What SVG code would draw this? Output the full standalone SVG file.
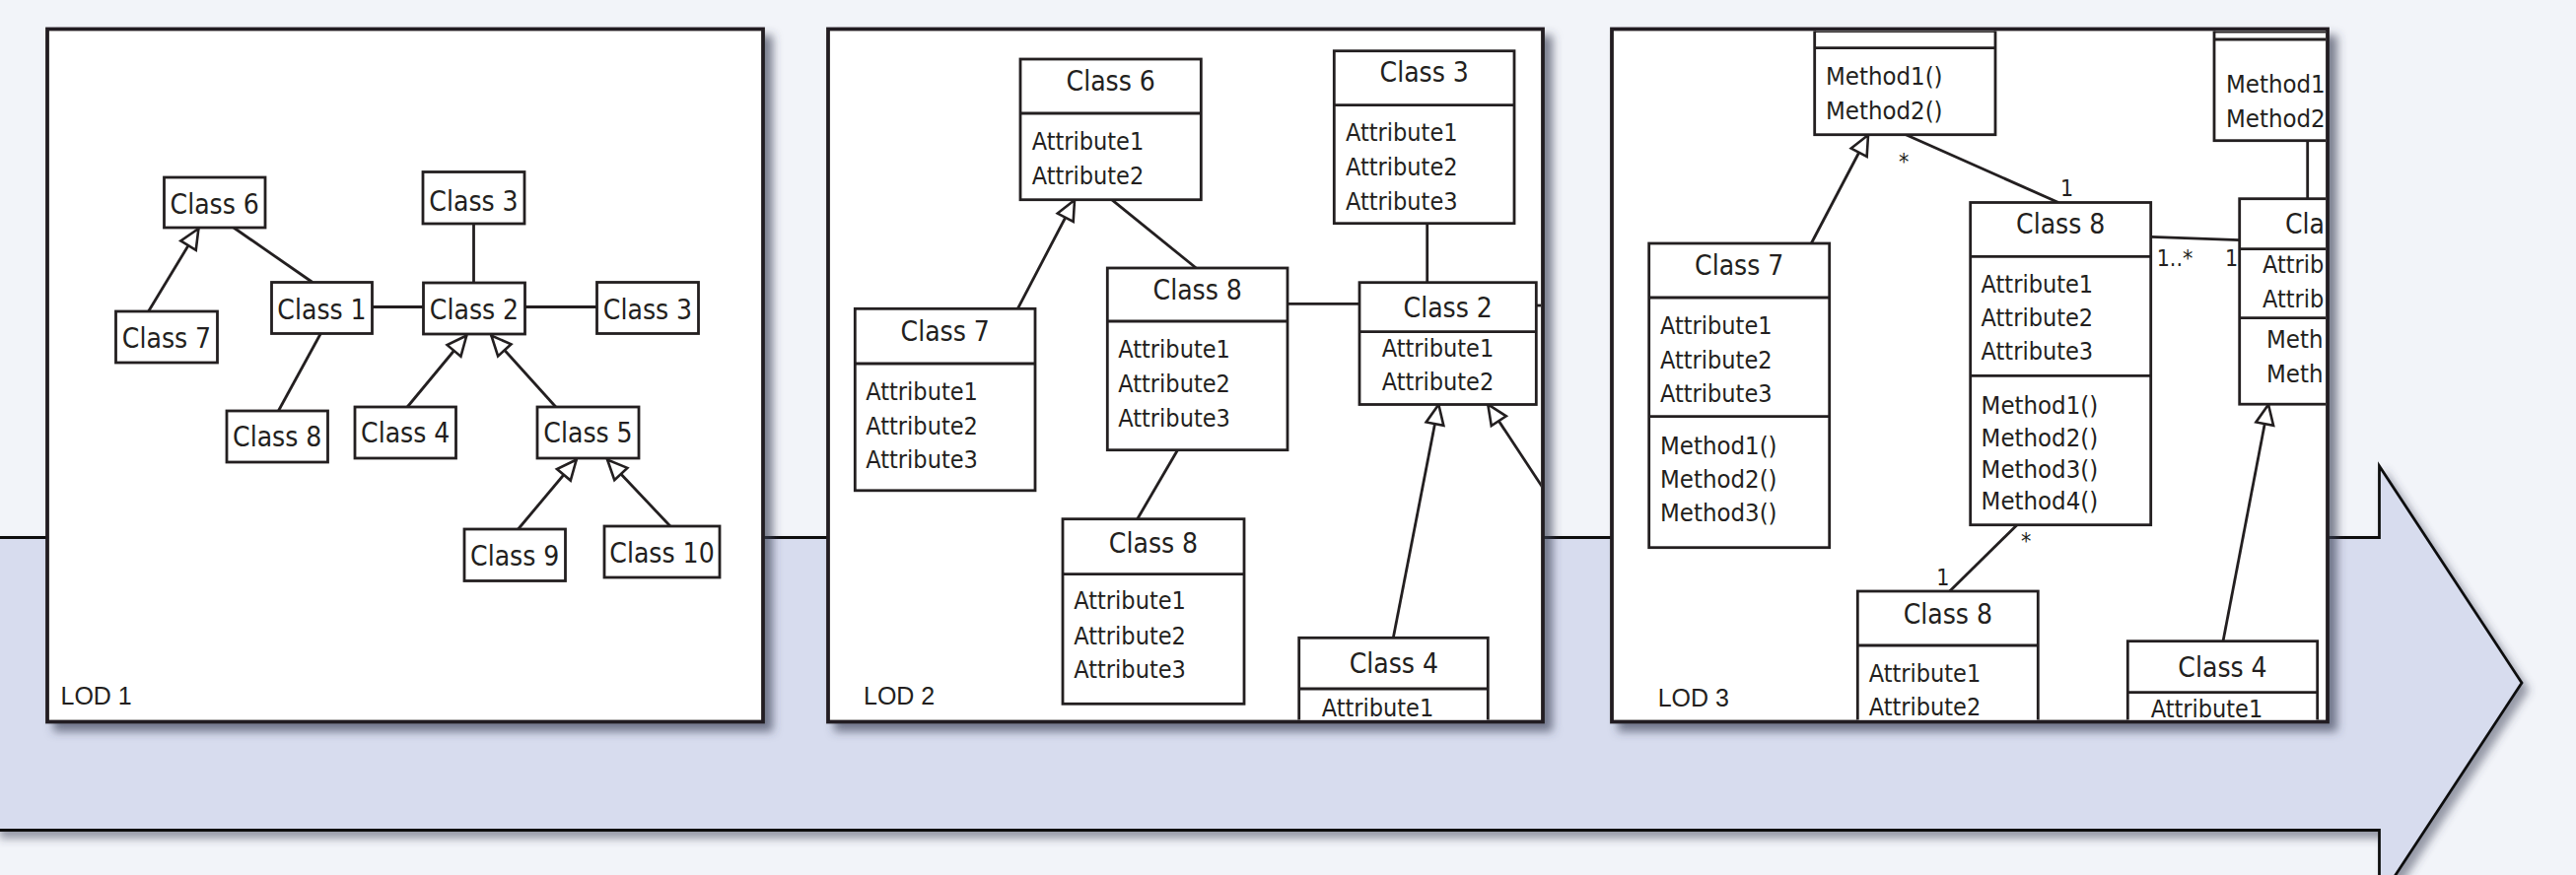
<svg xmlns="http://www.w3.org/2000/svg" width="2613" height="888" viewBox="0 0 2613 888">
<style>
.box{fill:#fff;stroke:#231f20;stroke-width:2.8}
.dv{stroke:#231f20;stroke-width:2.8;fill:none}
.ln{stroke:#231f20;stroke-width:2.8;fill:none}
.gen{stroke:#231f20;stroke-width:2.8;fill:none;marker-end:url(#tri)}
.panel{fill:#fff;stroke:#231f20;stroke-width:3.8}
text{font-family:"DejaVu Sans Condensed","DejaVu Sans",sans-serif;font-stretch:condensed;fill:#231f20}
.h{font-size:28px;text-anchor:middle}
.a{font-size:25px}
.m{font-size:25.5px}
.l{font-size:23px}
.lod{font-family:"Liberation Sans",Arial,sans-serif;font-stretch:normal;font-size:25px}
</style>
<defs>
<marker id="tri" markerUnits="userSpaceOnUse" viewBox="-24 -12 28 24" refX="0" refY="0" markerWidth="28" markerHeight="24" orient="auto">
<path d="M0,0 L-20,-9 L-20,9 Z" fill="#fff" stroke="#231f20" stroke-width="2.6" stroke-linejoin="miter"/>
</marker>
<filter id="sh" x="-5%" y="-5%" width="115%" height="115%">
<feGaussianBlur in="SourceAlpha" stdDeviation="5"/>
<feOffset dx="8" dy="8" result="b"/>
<feFlood flood-color="#3a3f55" flood-opacity="0.65"/>
<feComposite in2="b" operator="in"/>
<feMerge><feMergeNode/><feMergeNode in="SourceGraphic"/></feMerge>
</filter>
<filter id="shb" x="-5%" y="-10%" width="110%" height="130%">
<feGaussianBlur in="SourceAlpha" stdDeviation="4"/>
<feOffset dx="6" dy="7" result="b"/>
<feFlood flood-color="#3a3f55" flood-opacity="0.5"/>
<feComposite in2="b" operator="in"/>
<feMerge><feMergeNode/><feMergeNode in="SourceGraphic"/></feMerge>
</filter>
<clipPath id="c1"><rect x="50" y="31.5" width="722" height="699"/></clipPath>
<clipPath id="c2"><rect x="842" y="31.5" width="721" height="699"/></clipPath>
<clipPath id="c3"><rect x="1637" y="31.5" width="722" height="699"/></clipPath>
</defs>
<rect width="2613" height="888" fill="#f2f4f9"/>
<g id="band">
<polygon points="-5,545.5 2413.5,545.5 2413.5,473 2558,693 2413.5,913 2413.5,842.5 -5,842.5" fill="#d7dcee" stroke="#111" stroke-width="2.8" stroke-linejoin="miter" filter="url(#shb)"/>
</g>

<!-- PANEL 1 -->
<g id="panel1">
<rect class="panel" x="48" y="29.5" width="726" height="703" filter="url(#sh)"/>
<g clip-path="url(#c1)">
<g id="p1-connectors">
<line class="gen" x1="150.6" y1="316" x2="201.4" y2="232"/>
<line class="ln" x1="237" y1="231" x2="317" y2="286.5"/>
<line class="ln" x1="377.5" y1="311.5" x2="429.5" y2="311.5"/>
<line class="ln" x1="480.5" y1="227" x2="480.5" y2="287"/>
<line class="ln" x1="532.5" y1="311.5" x2="605.5" y2="311.5"/>
<line class="ln" x1="325.3" y1="338.5" x2="282.4" y2="417"/>
<line class="gen" x1="413.2" y1="413" x2="473.3" y2="340.5"/>
<line class="gen" x1="563.8" y1="413" x2="498.4" y2="340.5"/>
<line class="gen" x1="525.6" y1="537" x2="584.7" y2="466.5"/>
<line class="gen" x1="679.9" y1="534" x2="616.1" y2="466.5"/>
</g>
<g id="p1-class6"><rect class="box" x="166.5" y="180" width="102.5" height="51"/><text class="h" x="217.7" y="217">Class 6</text></g>
<g id="p1-class3a"><rect class="box" x="429" y="174.5" width="103" height="52.5"/><text class="h" x="480.5" y="213.5">Class 3</text></g>
<g id="p1-class1"><rect class="box" x="275.5" y="286.5" width="102" height="52"/><text class="h" x="326.5" y="324">Class 1</text></g>
<g id="p1-class2"><rect class="box" x="429.5" y="287" width="103" height="52"/><text class="h" x="481" y="324">Class 2</text></g>
<g id="p1-class3b"><rect class="box" x="605.5" y="286.5" width="103" height="52"/><text class="h" x="657" y="324">Class 3</text></g>
<g id="p1-class7"><rect class="box" x="117.5" y="316" width="103" height="52"/><text class="h" x="169" y="352.5">Class 7</text></g>
<g id="p1-class8"><rect class="box" x="230" y="417" width="102.5" height="52"/><text class="h" x="281.2" y="453">Class 8</text></g>
<g id="p1-class4"><rect class="box" x="360" y="413" width="102.5" height="52"/><text class="h" x="411.2" y="449">Class 4</text></g>
<g id="p1-class5"><rect class="box" x="545" y="413" width="103" height="52"/><text class="h" x="596.5" y="449">Class 5</text></g>
<g id="p1-class9"><rect class="box" x="471" y="537" width="102.5" height="52.5"/><text class="h" x="522.2" y="573.5">Class 9</text></g>
<g id="p1-class10"><rect class="box" x="613" y="534" width="117" height="52"/><text class="h" x="671.5" y="570.5">Class 10</text></g>
<text class="lod" x="61.5" y="715">LOD 1</text>
</g>
</g>

<!-- PANEL 2 -->
<g id="panel2">
<rect class="panel" x="840" y="29.5" width="725" height="703" filter="url(#sh)"/>
<g clip-path="url(#c2)">
<g id="p2-connectors">
<line class="gen" x1="1032.3" y1="313.3" x2="1090" y2="203"/>
<line class="ln" x1="1127.7" y1="202.7" x2="1213.3" y2="272"/>
<line class="ln" x1="1306" y1="308.3" x2="1379" y2="308.3"/>
<line class="ln" x1="1447.7" y1="226.7" x2="1447.7" y2="286.7"/>
<line class="ln" x1="1558.3" y1="310" x2="1572" y2="310"/>
<line class="ln" x1="1194.5" y1="456.7" x2="1153.7" y2="526.7"/>
<line class="gen" x1="1413.3" y1="647.3" x2="1459.3" y2="410.5"/>
<line class="gen" x1="1580" y1="517.8" x2="1509.3" y2="410.5"/>
</g>
<g id="p2-class6"><rect class="box" x="1035" y="60" width="183.3" height="142.7"/><line class="dv" x1="1035" y1="115" x2="1218.3" y2="115"/>
<text class="h" x="1126.7" y="91.7">Class 6</text><text class="a" x="1046.7" y="151.7">Attribute1</text><text class="a" x="1046.7" y="186.7">Attribute2</text></g>
<g id="p2-class3"><rect class="box" x="1353.3" y="51.7" width="182.7" height="175"/><line class="dv" x1="1353.3" y1="106.7" x2="1536" y2="106.7"/>
<text class="h" x="1444.7" y="83.3">Class 3</text><text class="a" x="1365" y="143.3">Attribute1</text><text class="a" x="1365" y="178.3">Attribute2</text><text class="a" x="1365" y="212.7">Attribute3</text></g>
<g id="p2-class7"><rect class="box" x="867.3" y="313.3" width="182.7" height="184.5"/><line class="dv" x1="867.3" y1="369" x2="1050" y2="369"/>
<text class="h" x="958.7" y="346">Class 7</text><text class="a" x="878.3" y="406">Attribute1</text><text class="a" x="878.3" y="440.7">Attribute2</text><text class="a" x="878.3" y="475.4">Attribute3</text></g>
<g id="p2-class8a"><rect class="box" x="1123.3" y="272" width="182.7" height="184.7"/><line class="dv" x1="1123.3" y1="326" x2="1306" y2="326"/>
<text class="h" x="1214.7" y="304">Class 8</text><text class="a" x="1134.3" y="363.3">Attribute1</text><text class="a" x="1134.3" y="398.3">Attribute2</text><text class="a" x="1134.3" y="432.7">Attribute3</text></g>
<g id="p2-class2"><rect class="box" x="1379" y="286.7" width="179.3" height="123.8"/><line class="dv" x1="1379" y1="336.7" x2="1558.3" y2="336.7"/>
<text class="h" x="1468.7" y="321.7">Class 2</text><text class="a" x="1401.7" y="361.7">Attribute1</text><text class="a" x="1401.7" y="396">Attribute2</text></g>
<g id="p2-class8b"><rect class="box" x="1078" y="526.7" width="184" height="187.6"/><line class="dv" x1="1078" y1="582.7" x2="1262" y2="582.7"/>
<text class="h" x="1170" y="560.6">Class 8</text><text class="a" x="1089.3" y="618.4">Attribute1</text><text class="a" x="1089.3" y="653.5">Attribute2</text><text class="a" x="1089.3" y="688">Attribute3</text></g>
<g id="p2-class4"><rect class="box" x="1317.7" y="647.3" width="191.6" height="150"/><line class="dv" x1="1317.7" y1="699" x2="1509.3" y2="699"/>
<text class="h" x="1413.8" y="683.3">Class 4</text><text class="a" x="1340.7" y="726.7">Attribute1</text></g>
<text class="lod" x="876" y="714.6">LOD 2</text>
</g>
</g>

<!-- PANEL 3 -->
<g id="panel3">
<rect class="panel" x="1635" y="29.5" width="726" height="703" filter="url(#sh)"/>
<g clip-path="url(#c3)">
<g id="p3-connectors">
<line class="gen" x1="1837.3" y1="247" x2="1895" y2="137"/>
<line class="ln" x1="1933.3" y1="136.7" x2="2088" y2="205.5"/>
<line class="ln" x1="2181.7" y1="240.3" x2="2271.7" y2="243.7"/>
<line class="ln" x1="2340.7" y1="142.7" x2="2340.7" y2="201.7"/>
<line class="ln" x1="2046" y1="532.7" x2="1977.7" y2="600"/>
<line class="gen" x1="2255" y1="650.7" x2="2301" y2="410.5"/>
<text class="l" x="1926" y="172">*</text>
<text class="l" x="2090" y="199.3">1</text>
<text class="l" x="2187.7" y="270">1..*</text>
<text class="l" x="2257" y="270">1</text>
<text class="l" x="2050" y="557">*</text>
<text class="l" x="1964.3" y="594">1</text>
</g>
<g id="p3-top1"><rect class="box" x="1840.7" y="-40" width="183.3" height="176.7"/><line class="dv" x1="1840.7" y1="31.5" x2="2024" y2="31.5"/><line class="dv" x1="1840.7" y1="48.7" x2="2024" y2="48.7"/>
<text class="m" x="1852" y="86">Method1()</text><text class="m" x="1852" y="120.7">Method2()</text></g>
<g id="p3-top2"><rect class="box" x="2246" y="-40" width="194" height="182.7"/><line class="dv" x1="2246" y1="32" x2="2440" y2="32"/><line class="dv" x1="2246" y1="40" x2="2440" y2="40"/>
<text class="m" x="2258" y="94">Method1</text><text class="m" x="2258" y="128.7">Method2</text></g>
<g id="p3-class2"><rect class="box" x="2271.7" y="201.7" width="183.3" height="208.5"/><line class="dv" x1="2271.7" y1="252.7" x2="2455" y2="252.7"/><line class="dv" x1="2271.7" y1="322.7" x2="2455" y2="322.7"/>
<text class="h" x="2318" y="237.3" style="text-anchor:start">Cla</text><text class="a" x="2295" y="277">Attrib</text><text class="a" x="2295" y="312">Attrib</text><text class="m" x="2299" y="353.3">Meth</text><text class="m" x="2299" y="388.3">Meth</text></g>
<g id="p3-class7"><rect class="box" x="1672.7" y="247" width="183" height="308.7"/><line class="dv" x1="1672.7" y1="302" x2="1855.7" y2="302"/><line class="dv" x1="1672.7" y1="422.7" x2="1855.7" y2="422.7"/>
<text class="h" x="1764.2" y="279.3">Class 7</text><text class="a" x="1684" y="339">Attribute1</text><text class="a" x="1684" y="373.5">Attribute2</text><text class="a" x="1684" y="408">Attribute3</text>
<text class="m" x="1684" y="460.7">Method1()</text><text class="m" x="1684" y="495">Method2()</text><text class="m" x="1684" y="529.3">Method3()</text></g>
<g id="p3-class8a"><rect class="box" x="1998.7" y="205.5" width="183" height="327.2"/><line class="dv" x1="1998.7" y1="260.3" x2="2181.7" y2="260.3"/><line class="dv" x1="1998.7" y1="381.3" x2="2181.7" y2="381.3"/>
<text class="h" x="2090.2" y="237.3">Class 8</text><text class="a" x="2009.6" y="297.3">Attribute1</text><text class="a" x="2009.6" y="331.3">Attribute2</text><text class="a" x="2009.6" y="365.2">Attribute3</text>
<text class="m" x="2009.6" y="420">Method1()</text><text class="m" x="2009.6" y="452.5">Method2()</text><text class="m" x="2009.6" y="485">Method3()</text><text class="m" x="2009.6" y="517">Method4()</text></g>
<g id="p3-class8b"><rect class="box" x="1884.3" y="600" width="183" height="180"/><line class="dv" x1="1884.3" y1="655" x2="2067.3" y2="655"/>
<text class="h" x="1975.8" y="632.7">Class 8</text><text class="a" x="1895.7" y="691.7">Attribute1</text><text class="a" x="1895.7" y="726">Attribute2</text></g>
<g id="p3-class4"><rect class="box" x="2158.3" y="650.7" width="192.4" height="150"/><line class="dv" x1="2158.3" y1="702.7" x2="2350.7" y2="702.7"/>
<text class="h" x="2254.5" y="686.7">Class 4</text><text class="a" x="2181.7" y="728.3">Attribute1</text></g>
<text class="lod" x="1681.7" y="717.3">LOD 3</text>
</g>
</g>
</svg>
